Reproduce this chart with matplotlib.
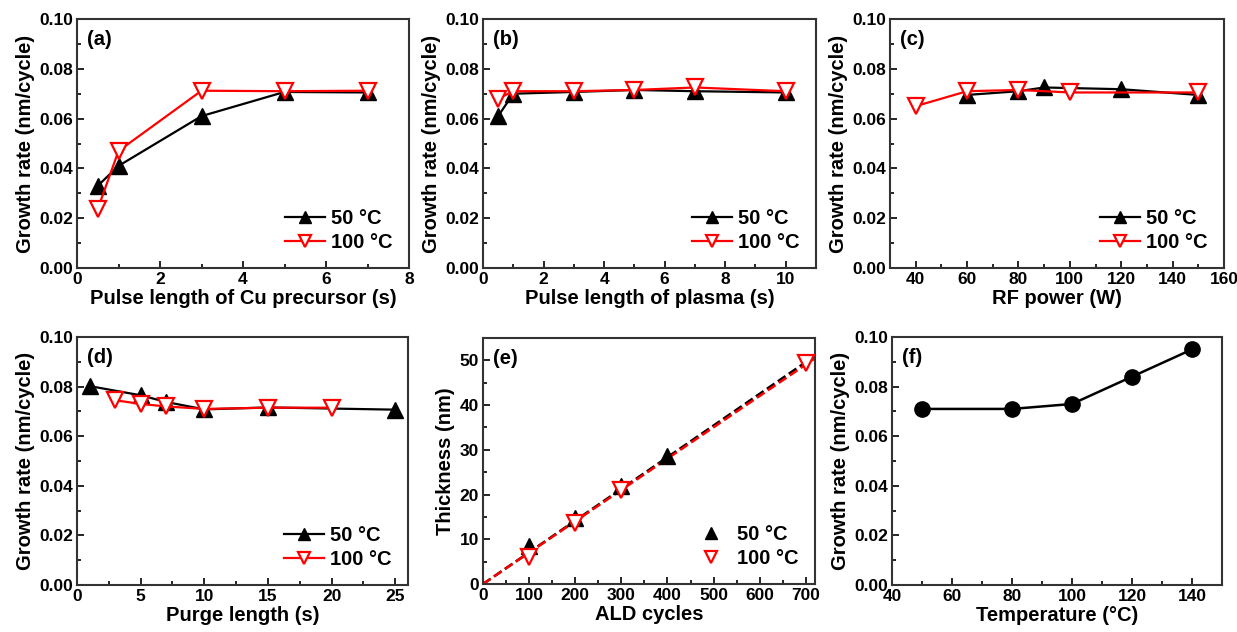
import numpy as np
import matplotlib
matplotlib.use("Agg")
import matplotlib.pyplot as plt
from matplotlib.ticker import MultipleLocator, FormatStrFormatter

plt.rcParams['font.family'] = ['Liberation Sans', 'DejaVu Sans']
plt.rcParams['font.weight'] = 'bold'
plt.rcParams['axes.labelweight'] = 'bold'

# ---- data ----
# (a) pulse length of Cu precursor
a_x50 = [0.5, 1, 3, 5, 7]
a_y50 = [0.033, 0.041, 0.061, 0.0707, 0.0705]
a_x100 = [0.5, 1, 3, 5, 7]
a_y100 = [0.0237, 0.047, 0.0712, 0.071, 0.0712]

# (b) pulse length of plasma
b_x50 = [0.5, 1, 3, 5, 7, 10]
b_y50 = [0.061, 0.070, 0.0707, 0.0715, 0.071, 0.0705]
b_x100 = [0.5, 1, 3, 5, 7, 10]
b_y100 = [0.068, 0.071, 0.071, 0.0715, 0.0725, 0.071]

# (c) RF power
c_x50 = [60, 80, 90, 120, 150]
c_y50 = [0.0695, 0.071, 0.0725, 0.0718, 0.0695]
c_x100 = [40, 60, 80, 100, 150]
c_y100 = [0.065, 0.071, 0.0715, 0.0705, 0.0705]

# (d) purge length
d_x50 = [1, 5, 7, 10, 15, 25]
d_y50 = [0.0802, 0.0765, 0.0738, 0.0708, 0.0716, 0.0707]
d_x100 = [3, 5, 7, 10, 15, 20]
d_y100 = [0.0745, 0.073, 0.072, 0.071, 0.0715, 0.0715]

# (e) thickness vs ALD cycles
e_x50 = [100, 200, 300, 400]
e_y50 = [8.4, 14.7, 21.8, 28.6]
e_x100 = [100, 200, 300, 700]
e_y100 = [6.0, 13.7, 21.0, 49.3]

# (f) growth rate vs temperature
f_x = [50, 80, 100, 120, 140]
f_y = [0.071, 0.071, 0.073, 0.084, 0.095]

labels = ['50 \u00b0C', '100 \u00b0C']

W, H = 1237, 632
fig = plt.figure(figsize=(W / 100, H / 100), dpi=100)

LABEL_FS = 14.5
TICK_FS = 12.5
LEG_FS = 14.5


def add_ax(l, r, t, b):
    return fig.add_axes([l / W, 1 - b / H, (r - l) / W, (b - t) / H])


def style(ax):
    for s in ax.spines.values():
        s.set_linewidth(1.5)
        s.set_color('#333333')
    ax.tick_params(which='both', direction='in', top=False, right=False,
                   labelsize=TICK_FS, width=1.2, pad=3)
    ax.tick_params(which='major', length=5)
    ax.tick_params(which='minor', length=3)
    for lab in ax.get_xticklabels() + ax.get_yticklabels():
        lab.set_fontweight('bold')


def growth_axis(ax):
    ax.set_ylim(0, 0.1)
    ax.yaxis.set_major_locator(MultipleLocator(0.02))
    ax.yaxis.set_minor_locator(MultipleLocator(0.01))
    ax.yaxis.set_major_formatter(FormatStrFormatter('%.2f'))
    ax.set_ylabel('Growth rate (nm/cycle)', fontsize=LABEL_FS, fontweight='bold', labelpad=3)


def two_series(ax, x1, y1, x2, y2, lines=True):
    ls = '-' if lines else 'none'
    ax.plot(x1, y1, linestyle=ls, color='black', lw=1.6, marker='^', ms=12,
            mfc='black', mec='black', label=labels[0], zorder=3)
    ax.plot(x2, y2, linestyle=ls, color='red', lw=1.6, marker='v', ms=12,
            mfc='white', mec='red', mew=1.6, label=labels[1], zorder=4)
    leg = ax.legend(loc='lower right', frameon=False, fontsize=LEG_FS,
                    handlelength=2.0, handletextpad=0.3, labelspacing=0.25,
                    borderaxespad=0.4, markerscale=0.75)
    for t in leg.get_texts():
        t.set_fontweight('bold')


def panel_label(ax, s):
    ax.text(0.03, 0.955, s, transform=ax.transAxes, fontsize=LABEL_FS,
            fontweight='bold', va='top', ha='left')


def origin_slope(xs, ys):
    xs = np.asarray(xs, float)
    ys = np.asarray(ys, float)
    return np.sum(xs * ys) / np.sum(xs * xs)


# (a)
ax = add_ax(77, 409, 19, 268)
two_series(ax, a_x50, a_y50, a_x100, a_y100)
ax.set_xlim(0, 8)
ax.xaxis.set_major_locator(MultipleLocator(2))
ax.xaxis.set_minor_locator(MultipleLocator(1))
growth_axis(ax)
ax.set_xlabel('Pulse length of Cu precursor (s)', fontsize=LABEL_FS, fontweight='bold', labelpad=1)
panel_label(ax, '(a)')
style(ax)

# (b)
ax = add_ax(483, 816, 19, 268)
two_series(ax, b_x50, b_y50, b_x100, b_y100)
ax.set_xlim(0, 11)
ax.xaxis.set_major_locator(MultipleLocator(2))
ax.xaxis.set_minor_locator(MultipleLocator(1))
growth_axis(ax)
ax.set_xlabel('Pulse length of plasma (s)', fontsize=LABEL_FS, fontweight='bold', labelpad=1)
panel_label(ax, '(b)')
style(ax)

# (c)
ax = add_ax(890, 1224, 19, 268)
two_series(ax, c_x50, c_y50, c_x100, c_y100)
ax.set_xlim(30, 160)
ax.xaxis.set_major_locator(MultipleLocator(20))
ax.xaxis.set_minor_locator(MultipleLocator(10))
growth_axis(ax)
ax.set_xlabel('RF power (W)', fontsize=LABEL_FS, fontweight='bold', labelpad=1)
panel_label(ax, '(c)')
style(ax)

# (d)
ax = add_ax(77, 408, 337, 585)
two_series(ax, d_x50, d_y50, d_x100, d_y100)
ax.set_xlim(0, 26)
ax.xaxis.set_major_locator(MultipleLocator(5))
ax.xaxis.set_minor_locator(MultipleLocator(2.5))
growth_axis(ax)
ax.set_xlabel('Purge length (s)', fontsize=LABEL_FS, fontweight='bold', labelpad=1)
panel_label(ax, '(d)')
style(ax)

# (e)
ax = add_ax(483, 815, 338, 584)
xfit = np.array([0.0, 720.0])
k_all = origin_slope(e_x50 + e_x100, e_y50 + e_y100)
k100 = origin_slope(e_x100, e_y100)
ax.plot(xfit, k_all * xfit, '--', color='black', lw=1.8, zorder=2)
ax.plot(xfit, k100 * xfit, '--', color='red', lw=1.8, zorder=2.5)
two_series(ax, e_x50, e_y50, e_x100, e_y100, lines=False)
ax.set_xlim(0, 720)
ax.set_ylim(0, 55)
ax.xaxis.set_major_locator(MultipleLocator(100))
ax.xaxis.set_minor_locator(MultipleLocator(50))
ax.yaxis.set_major_locator(MultipleLocator(10))
ax.yaxis.set_minor_locator(MultipleLocator(5))
ax.set_ylabel('Thickness (nm)', fontsize=LABEL_FS, fontweight='bold', labelpad=3)
ax.set_xlabel('ALD cycles', fontsize=LABEL_FS, fontweight='bold', labelpad=1)
panel_label(ax, '(e)')
style(ax)

# (f)
ax = add_ax(892, 1222, 337, 585)
ax.plot(f_x, f_y, '-', color='black', lw=1.8, marker='o', ms=11, mfc='black', mec='black')
ax.set_xlim(40, 150)
ax.xaxis.set_major_locator(MultipleLocator(20))
ax.xaxis.set_minor_locator(MultipleLocator(10))
growth_axis(ax)
ax.set_xlabel('Temperature (\u00b0C)', fontsize=LABEL_FS, fontweight='bold', labelpad=1)
panel_label(ax, '(f)')
style(ax)

fig.savefig('out.png', dpi=100, facecolor='white')
